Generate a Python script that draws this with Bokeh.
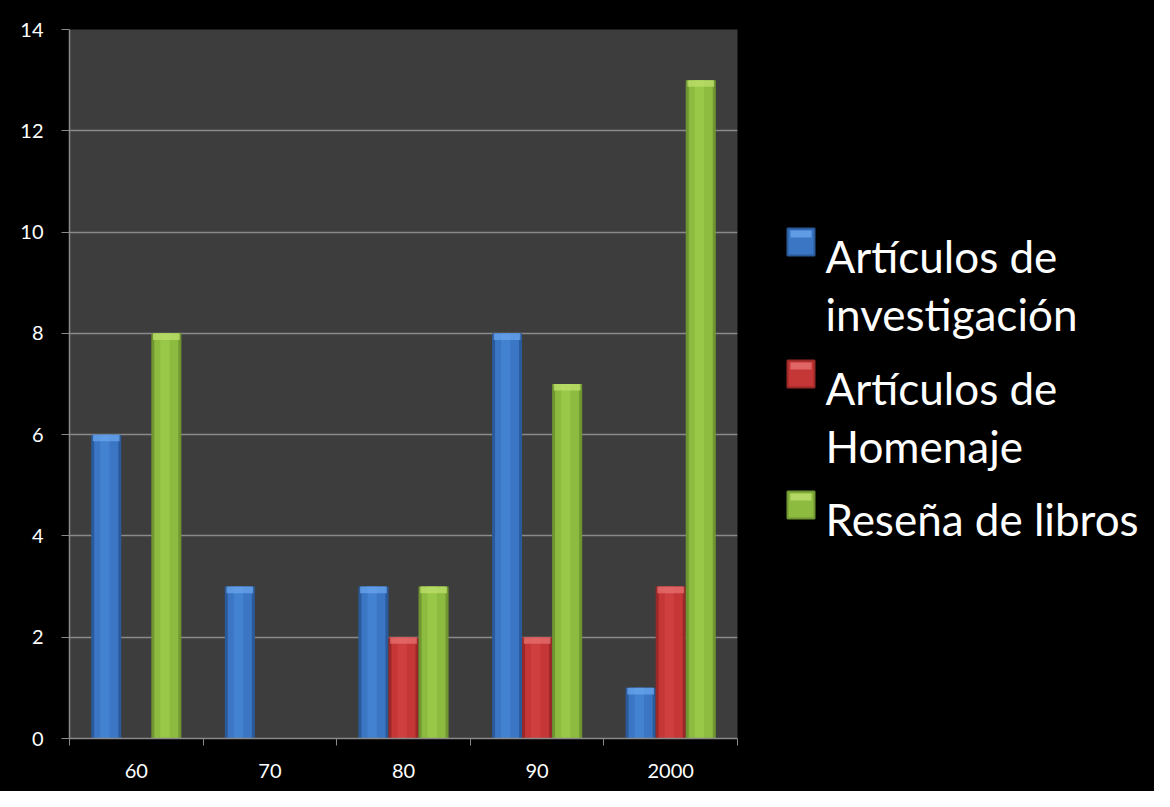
from bokeh.plotting import figure
from bokeh.models import ColumnDataSource, Range1d, FixedTicker
from bokeh.layouts import row
from bokeh.transform import dodge
from bokeh.core.properties import value
from bokeh.embed import file_html
from bokeh.resources import INLINE

# ---- data ----
decades = ["60", "70", "80", "90", "2000"]
investigacion = [6, 3, 3, 8, 1]
homenaje = [0, 0, 2, 2, 3]
resenas = [8, 0, 3, 7, 13]
series_names = ["Artículos de investigación", "Artículos de Homenaje", "Reseña de libros"]
legend_lines = [["Artículos de", "investigación"], ["Artículos de", "Homenaje"], ["Reseña de libros"]]
y_ticks = [0, 2, 4, 6, 8, 10, 12, 14]

FONT = "Lato"
BG = "#000000"
PLOT_BG = "#3d3d3d"
GRID = "#8a8a8a"

# colours: (edge, mid, highlight, top bevel)
colors = [
    ("#2b5a9a", "#3a76c4", "#4a8ad8", "#6aa6ee"),
    ("#9a2828", "#c53636", "#d64646", "#e67272"),
    ("#6f9630", "#8dbb3f", "#a2d04e", "#bde06e"),
]

src = ColumnDataSource(dict(
    x=[i + 0.5 for i in range(len(decades))],
    inv=investigacion, hom=homenaje, res=resenas,
))

p = figure(width=750, height=791, output_backend="svg", toolbar_location=None,
           x_range=Range1d(0, len(decades)), y_range=Range1d(0, 14),
           min_border_left=69, min_border_right=13, min_border_top=29, min_border_bottom=53)
p.background_fill_color = PLOT_BG
p.border_fill_color = BG
p.outline_line_color = None

offsets = [-0.225, 0.0, 0.225]
cols = ["inv", "hom", "res"]
for off, col, (edge, mid, hi, bevel) in zip(offsets, cols, colors):
    xs = dodge("x", off, range=p.x_range)
    p.vbar(x=xs, top=col, width=0.225, bottom=0,
           source=src, fill_color=edge, line_color=None)
    p.vbar(x=xs, top=col, width=0.18, bottom=0,
           source=src, fill_color=mid, line_color=None)
    p.vbar(x=dodge("x", off - 0.01, range=p.x_range), top=col, width=0.07, bottom=0,
           source=src, fill_color=hi, line_color=None, fill_alpha=0.6)
    p.vbar(x=xs, top=col, bottom=dodge(col, -0.13, range=p.y_range), width=0.2,
           source=src, fill_color=bevel, line_color=None, fill_alpha=0.75)

# x axis: labels at centers, tick marks at boundaries
p.xaxis.ticker = FixedTicker(ticks=[i + 0.5 for i in range(len(decades))],
                             minor_ticks=list(range(len(decades) + 1)))
p.xaxis.major_label_overrides = {i + 0.5: d for i, d in enumerate(decades)}
p.xaxis.major_tick_line_color = None
p.xaxis.minor_tick_line_color = GRID
p.xaxis.minor_tick_out = 7
p.xaxis.minor_tick_in = 0
p.xaxis.major_tick_out = 7
p.xaxis.major_tick_in = 0
p.xaxis.major_label_standoff = 18
p.xgrid.grid_line_color = None

p.yaxis.ticker = FixedTicker(ticks=y_ticks)
p.yaxis.minor_tick_line_color = None
p.yaxis.major_tick_line_color = GRID
p.yaxis.major_tick_out = 8
p.yaxis.major_tick_in = 0
p.yaxis.major_label_standoff = 18
p.ygrid.grid_line_color = GRID
p.ygrid.grid_line_width = 1.5

for ax in (p.xaxis, p.yaxis):
    ax.axis_line_color = GRID
    ax.axis_line_width = 1.5
    ax.major_label_text_color = "white"
    ax.major_label_text_font = FONT
    ax.major_label_text_font_size = "20px"

# ---- legend panel (separate figure; its frame is aligned to the main frame rows) ----
leg = figure(width=404, height=791, output_backend="svg", toolbar_location=None,
             x_range=Range1d(0, 404), y_range=Range1d(738, 29),
             x_axis_location=None, y_axis_location=None,
             min_border=0, min_border_left=0, min_border_right=0,
             min_border_top=0, min_border_bottom=0)
leg.grid.visible = False
leg.background_fill_color = BG
leg.border_fill_color = BG
leg.outline_line_color = None

baselines = [[255, 313], [387, 445], [518]]
tx, ty, tt = [], [], []
for lines, bls in zip(legend_lines, baselines):
    for t, b in zip(lines, bls):
        tx.append(75)
        ty.append(b)
        tt.append(t)
sq_y = [bls[0] - 13.5 for bls in baselines]
leg.rect(x=[50.5] * 3, y=sq_y, width=27, height=27,
         fill_color=[c[1] for c in colors], line_color=[c[0] for c in colors], line_width=2)
leg.rect(x=[50.5] * 3, y=[y - 8 for y in sq_y], width=21, height=7,
         fill_color=[c[3] for c in colors], line_color=None, fill_alpha=0.8)
leg.text(x=tx, y=ty, text=tt, text_color="white", text_font=value(FONT),
         text_font_size="44px", text_baseline="alphabetic", text_align="left")

layout = row(p, leg, spacing=0, styles={"background-color": "#000000"})
open("out.html", "w").write(file_html(layout, INLINE))
